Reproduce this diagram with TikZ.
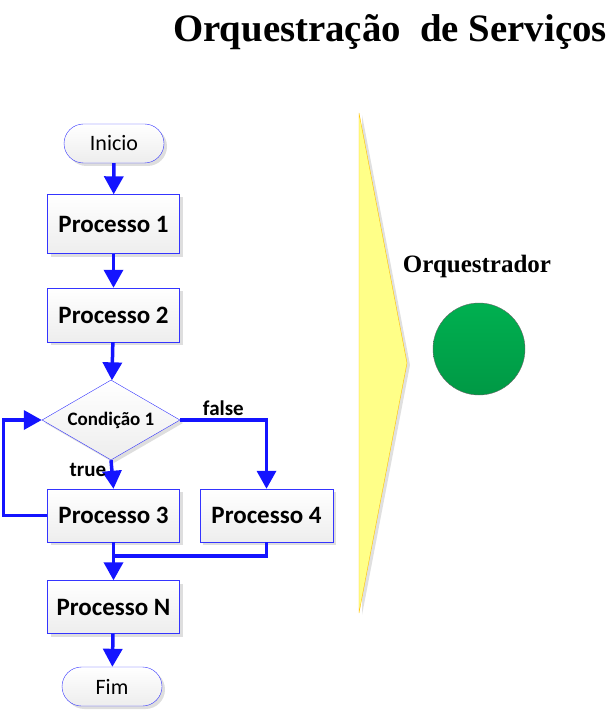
\documentclass[tikz,border=0pt]{standalone}
\usepackage{fontspec}
\setmainfont{Carlito}
\newfontfamily\titlefont{Liberation Serif}
\usetikzlibrary{arrows.meta,shapes.geometric,shapes.misc,shadows}
\definecolor{flowblue}{HTML}{1414FF}
\definecolor{edgeblue}{HTML}{3434FF}
\definecolor{paleyellow}{HTML}{FFFF88}
\definecolor{goldline}{HTML}{FFC000}
\definecolor{orchtop}{HTML}{00B050}
\definecolor{orchbottom}{HTML}{009945}
\tikzset{
  softshadow/.style={drop shadow={shadow xshift=3pt, shadow yshift=-3pt, fill=black!13, opacity=1}},
  procbox/.style={draw=edgeblue, top color=white, bottom color=black!7, minimum width=132pt, minimum height=54pt, inner sep=0pt, font=\fontsize{25}{29}\selectfont\bfseries, softshadow},
  termbox/.style={rounded rectangle, draw=edgeblue, top color=white, bottom color=black!7, minimum width=100pt, minimum height=39pt, inner sep=0pt, font=\fontsize{22}{26}\selectfont, softshadow},
  decbox/.style={diamond, aspect=1.7, draw=edgeblue, top color=white, bottom color=black!7, minimum width=138pt, minimum height=80pt, inner sep=0pt, font=\fontsize{19}{23}\selectfont\bfseries, softshadow},
  flow/.style={draw=flowblue, line width=3.5pt, -{Triangle[length=18pt,width=19pt]}},
  flowline/.style={draw=flowblue, line width=3.5pt},
  branch/.style={font=\fontsize{21}{25}\selectfont\bfseries, inner sep=3pt}
}
\begin{document}
\begin{tikzpicture}[x=1pt, y=-1pt]
\useasboundingbox (0,0) rectangle (609,711);
% title
\node[anchor=base west, inner sep=0pt, font=\titlefont\fontsize{38.8}{44}\selectfont\bfseries] (title) at (173,42) {Orquestração\ \ de Serviços};
% flow chart
\node[termbox] (inicio) at (114,143.5) {Inicio};
\node[procbox, minimum height=59pt] (p1) at (113.5,224) {Processo 1};
\node[procbox] (p2) at (113.5,315) {Processo 2};
\node[decbox] (cond) at (111,420) {Condição 1};
\node[procbox, minimum height=53pt] (p3) at (113.5,515.5) {Processo 3};
\node[procbox, minimum width=133pt, minimum height=53pt] (p4) at (266.5,515.5) {Processo 4};
\node[procbox, minimum height=53pt] (pn) at (113.5,607) {Processo N};
\node[termbox] (fim) at (112,686.5) {Fim};
\coordinate (merge) at (113.5,556);
\draw[flow] (inicio) -- (p1);
\draw[flow] (p1) -- (p2);
\draw[flow] (p2) -- (cond);
\draw[flow] (cond.south) -- node[branch, pos=0.35, left, xshift=-1pt] {true} (p3.north);
\draw[flow] (cond.east) -| node[branch, pos=0.25, above] {false} (p4.north);
\draw[flow] (p3.west) -- ++(-44,0) |- (cond.west);
\draw[flowline] (p4.south) |- (merge);
\draw[flow] (p3.south) -- (pn.north);
\draw[flow] (pn) -- (fim);
% orchestrator
\path[draw=goldline, fill=paleyellow, drop shadow={shadow xshift=3pt, shadow yshift=-2pt, fill=black!12, opacity=1}] (359,113) -- (407,363) -- (359,613) -- cycle;
\node[anchor=base, inner sep=0pt, font=\titlefont\fontsize{25}{29}\selectfont\bfseries] (orchlabel) at (477,272) {Orquestrador};
\node[circle, draw=black!60, top color=orchtop, bottom color=orchbottom, minimum size=92pt, inner sep=0pt] (orch) at (479,349) {};
\end{tikzpicture}
\end{document}
